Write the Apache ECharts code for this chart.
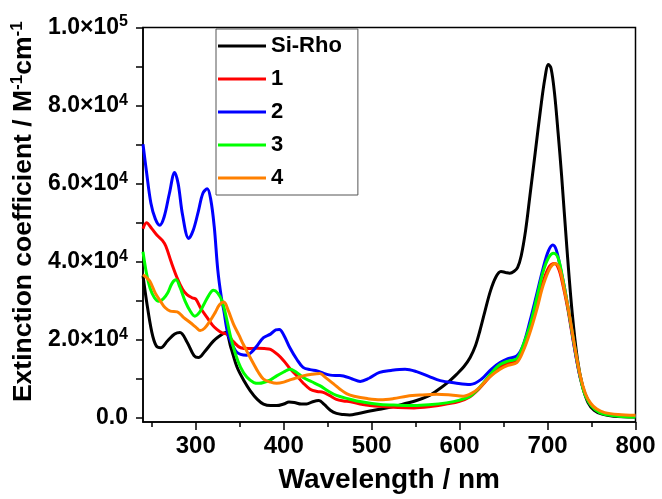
<!DOCTYPE html>
<html><head><meta charset="utf-8">
<script src="https://cdn.jsdelivr.net/npm/echarts@6/dist/echarts.min.js"></script>
<style>html,body{margin:0;padding:0;background:#fff}#c{width:662px;height:499px}</style>
</head><body><div id="c"></div>
<script>
// values in units of 1000 M^-1 cm^-1, wavelength in nm
const siRho = [[240,36.5],[244,30],[250,22],[255,18.5],[260,18],[268,19.8],[276,21.5],[282,21.9],[290,19.5],[298,16],[303,15.5],[310,17],[320,19.7],[327,21],[334,21.9],[340,18],[347,13],[355,9.5],[362,7],[370,4.8],[377,3.6],[385,3.2],[392,3.2],[400,3.6],[406,4.1],[412,4],[420,3.6],[426,3.6],[433,4.2],[440,4.5],[446,3.5],[453,2],[460,1.2],[468,0.9],[475,0.8],[485,1.2],[498,1.8],[515,2.5],[529,3.2],[551,4.5],[564,5.6],[574,7],[586,9],[597,11.3],[605,13.2],[612,15.5],[618,18.5],[623,22.3],[629,27.5],[635,32.5],[641,36],[647,37.5],[652,37.3],[657,37.1],[662,37.6],[666,38.6],[670,41.5],[675,48],[680,57],[686,68],[692,79],[697,87],[701,90.5],[704,89.5],[708,83],[712,73],[716,62],[722,43.5],[728,27],[734,15],[740,8],[746,4],[753,2],[762,1],[775,0.5],[800,0.3]];
const cmp1 = [[240,48.5],[244,50],[250,48.5],[256,46.8],[262,45.5],[266,44],[272,40],[279,35.8],[285,33],[290,31.6],[296,30.8],[300,30.5],[306,28],[313,25.7],[319,23.8],[324,22.7],[330,21.8],[336,21.4],[343,19.5],[351,18],[360,17.8],[370,17.9],[378,17.8],[385,17.6],[393,16.3],[400,14.7],[407,12.7],[415,10.8],[422,9],[430,7.4],[438,6.8],[445,6.6],[452,5.8],[460,4.8],[468,4.4],[476,4.2],[490,3.5],[510,3],[530,2.7],[548,2.6],[565,2.9],[585,3.6],[600,4.3],[612,5.5],[620,7],[627,8.7],[636,11],[646,13],[655,14],[665,14.7],[672,17.5],[680,23],[688,29.5],[695,35],[702,38.8],[708,39.6],[713,38],[718,33.5],[723,28],[729,20],[736,11.5],[742,6.5],[748,3.8],[755,2.2],[764,1.2],[780,0.7],[800,0.5]];
const cmp2 = [[240,70.1],[244,63],[249,55],[254,51],[259,49.4],[264,51.5],[270,57.5],[276,62.9],[280,60],[285,52],[292,46],[297,48],[303,53],[308,57.5],[313,58.7],[317,56],[321,49],[325,38],[329,31],[332,27.4],[336,22],[340,19.5],[346,17],[351,16.3],[358,16.1],[364,17],[370,18.6],[377,20.6],[385,21.5],[391,22.6],[395,22.7],[400,21.3],[407,18],[415,15],[422,13],[430,12.4],[438,12.1],[445,11.5],[453,11],[462,10.9],[468,10.8],[478,10],[487,9.4],[497,10.2],[509,11.7],[522,12.2],[538,12.5],[551,11.9],[565,10.7],[578,9.6],[595,9],[612,8.6],[625,10],[636,12.5],[646,14.2],[655,15.2],[665,15.9],[672,18.5],[680,24.8],[688,32],[695,38.4],[701,42.8],[706,44.3],[710,43],[715,38],[720,32.5],[726,24.5],[731,17.5],[737,10.5],[743,6],[749,3.5],[756,2],[765,1.1],[780,0.6],[800,0.4]];
const cmp3 = [[240,42.6],[244,37],[248,33.3],[253,30.8],[258,29.9],[263,30.5],[268,32],[273,34.5],[277.5,35.4],[282,33.5],[288,29.9],[294,27.3],[299,26.1],[304,27],[309,29],[315,31.5],[320,32.7],[325,32],[330,29.9],[335,25.5],[339,21.4],[345,16.5],[351,13],[358,10.5],[366,9.1],[372,8.9],[377,9.1],[385,9.8],[392,10.8],[400,11.8],[407,12.5],[414,11.8],[422,10.4],[432,9.3],[441,8.3],[450,7],[460,5.8],[474,4.9],[490,4.1],[510,3.5],[530,3.3],[548,3.2],[565,3.4],[585,3.9],[600,4.6],[612,5.6],[620,7.2],[627,9],[636,11.5],[646,13.7],[655,14.6],[665,15.2],[672,18.5],[680,23.7],[688,31],[695,37.5],[701,41],[707,42.2],[712,41],[717,36],[722,30],[728,22],[735,13],[741,7],[747,4],[754,2.2],[763,1.1],[780,0.5],[800,0.3]];
const cmp4 = [[240,36.7],[244,36],[248,35],[254,32],[260,29.9],[265,28.3],[271,27.4],[279,27.2],[286,25.8],[294,24.4],[300,23.3],[305,22.4],[310,23],[316,24.8],[322,27],[327,29],[332,29.7],[337,27.5],[343,24],[349,21.3],[354,18.9],[360,16.3],[366,13.8],[371,11.8],[377,10],[385,9.2],[392,8.9],[400,9.2],[407,9.8],[415,10.3],[422,10.8],[432,11.2],[441,11.4],[448,10.3],[457,8.7],[464,7.4],[472,6.2],[480,5.6],[495,5],[510,4.7],[525,5],[540,5.6],[555,5.9],[574,6.1],[590,5.9],[604,5.6],[614,6.4],[623,7.9],[634,10.5],[646,12.5],[655,13.5],[665,14.2],[672,17],[680,21.9],[688,28],[695,34],[703,38.5],[709,39.6],[714,38],[719,33],[724,27.5],[730,19.5],[737,11],[743,6.3],[749,3.8],[756,2.3],[765,1.4],[780,0.9],[800,0.7]];

const seriesNames = ['Si-Rho','1','2','3','4'];
const seriesColors = ['#000000','#ff0000','#0000ff','#00ff00','#ff8000'];
const seriesData = [siRho, cmp1, cmp2, cmp3, cmp4];

const xLabelValues = [300,400,500,600,700,800];
const xMinorTicks = [250,350,450,550,650,750];
const yTickValues = [0,10,20,30,40,50,60,70,80,90,100];
const yLabelValues = [0,20,40,60,80,100];
const yLabelMant = {0:'0.0',20:'2.0',40:'4.0',60:'6.0',80:'8.0',100:'1.0'};
const yLabelExp = {20:'4',40:'4',60:'4',80:'4',100:'5'};

const FF = '"Liberation Sans", Arial, sans-serif';
const chart = echarts.init(document.getElementById('c'), null, {renderer:'canvas'});
chart.setOption({
  animation:false,
  backgroundColor:'#fff',
  grid:{left:143, right:26.5, top:27.5, bottom:74, show:true, borderColor:'#000', borderWidth:1.5, backgroundColor:'transparent', containLabel:false},
  legend:{
    orient:'vertical', left:216, top:29,
    data:seriesNames,
    itemWidth:48, itemHeight:3, itemGap:9,
    padding:[5,16,5,2],
    borderColor:'#555', borderWidth:1,
    textStyle:{fontFamily:FF, fontWeight:'bold', fontSize:22, color:'#000', lineHeight:24},
    icon:'rect'
  },
  xAxis:[{
    type:'value', min:240, max:800, position:'bottom',
    name:'Wavelength / nm', nameLocation:'middle', nameGap:44,
    nameTextStyle:{fontFamily:FF, fontWeight:'bold', fontSize:28, color:'#000'},
    axisLine:{show:true, onZero:false, lineStyle:{color:'#000', width:1.5}},
    axisTick:{show:true, inside:false, length:8, customValues:xLabelValues, lineStyle:{color:'#000', width:1.5}},
    axisLabel:{customValues:xLabelValues, fontFamily:FF, fontWeight:'bold', fontSize:24, color:'#000', margin:12},
    splitLine:{show:false}
  },{
    type:'value', min:240, max:800, position:'bottom', gridIndex:0,
    axisLine:{show:false, onZero:false},
    axisTick:{show:true, inside:false, length:5, customValues:xMinorTicks, lineStyle:{color:'#000', width:1.5}},
    axisLabel:{show:false},
    splitLine:{show:false}
  }],
  yAxis:{
    type:'value', min:-1, max:100,
    name:'{n|Extinction coefficient / M}{s|-1}{n|cm}{s|-1}',
    nameLocation:'middle', nameGap:93, nameRotate:90,
    nameTextStyle:{padding:[0,0,0,26], rich:{
      n:{fontFamily:FF, fontWeight:'bold', fontSize:26.5, color:'#000'},
      s:{fontFamily:FF, fontWeight:'bold', fontSize:17, color:'#000', padding:[0,0,12,0]}
    }},
    axisLine:{show:true, onZero:false, lineStyle:{color:'#000', width:1.5}},
    axisTick:{show:true, inside:false, length:7, customValues:yTickValues, lineStyle:{color:'#000', width:1.5}},
    axisLabel:{customValues:yLabelValues, margin:15,
      formatter:function(v){ const m = yLabelMant[v]; if(v===0) return '{b|'+m+'}'; return '{b|'+m+'×10}{s|'+yLabelExp[v]+'}'; },
      rich:{
        b:{fontFamily:FF, fontWeight:'bold', fontSize:23, color:'#000'},
        s:{fontFamily:FF, fontWeight:'bold', fontSize:16, color:'#000', padding:[0,0,11,0]}
      }
    },
    splitLine:{show:false}
  },
  series: seriesNames.map((n,i)=>({
    name:n, type:'line', xAxisIndex:0, data:seriesData[i], smooth:0.35, symbol:'none',
    lineStyle:{color:seriesColors[i], width:3}, itemStyle:{color:seriesColors[i]}
  }))
});
</script></body></html>
